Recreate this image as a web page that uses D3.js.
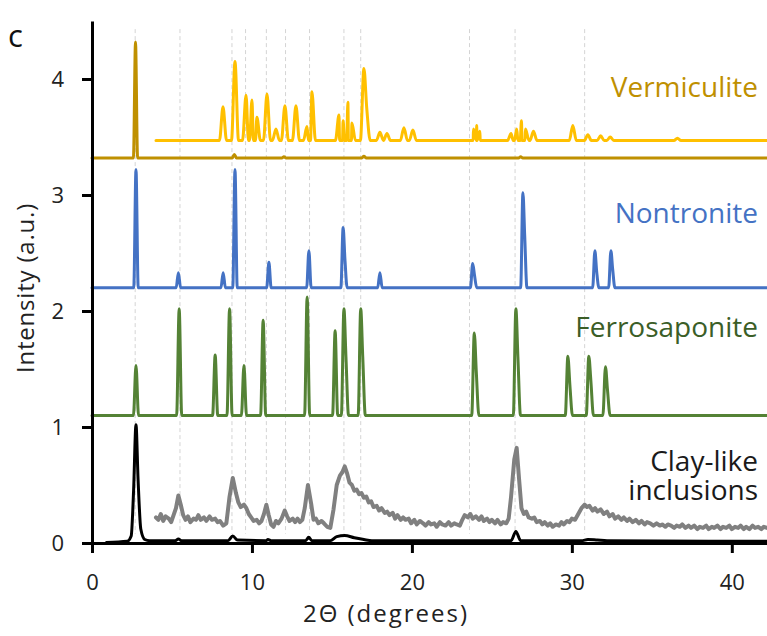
<!DOCTYPE html>
<html>
<head>
<meta charset="utf-8">
<script src="https://cdn.jsdelivr.net/npm/d3@7"></script>
<style>
  body { margin: 0; background: #fff; }
  svg { display: block; font-family: "Open Sans", sans-serif; }
</style>
</head>
<body>
<div id="chart"></div>
<script>
// axis ticks + dashed reference positions (2θ)
const xTicks = [0, 10, 20, 30, 40];
const yTicks = [0, 1, 2, 3, 4];
const refLines = [2.7, 5.5, 8.75, 9.6, 10.9, 12.1, 13.6, 15.75, 16.8, 23.6, 26.45, 30.8];

// peaks: [2θ, top, shoulder(optional)]
const vermBase = 3.32;
const vermPeaks = [[2.72, 4.32], [8.9, 3.35], [12.0, 3.33], [17.0, 3.335], [26.8, 3.33]];

const vermZoomBase = 3.47;
const vermZoomPeaks = [
  [8.19, 3.76], [8.94, 4.15], [9.63, 3.86], [10.0, 3.82], [10.31, 3.67], [10.94, 3.87],
  [11.5, 3.57], [12.06, 3.77], [12.75, 3.77], [13.44, 3.59], [13.75, 3.89],
  [15.44, 3.69], [15.7, 3.64], [16.0, 3.80], [16.25, 3.62], [17.0, 4.09, 3.75],
  [18.0, 3.54], [18.44, 3.53], [19.5, 3.58], [20.06, 3.56],
  [23.85, 3.57], [24.05, 3.60], [24.25, 3.55], [26.2, 3.53], [26.55, 3.57], [26.85, 3.64],
  [27.1, 3.57], [27.6, 3.55], [30.06, 3.60], [31.0, 3.52], [31.8, 3.51], [32.4, 3.50], [36.6, 3.49]
];

const nonBase = 2.2;
const nonPeaks = [
  [2.75, 3.22], [5.4, 2.33], [8.2, 2.33], [8.94, 3.22], [11.06, 2.42], [13.56, 2.52],
  [15.7, 2.72, 2.45], [18.0, 2.33], [23.8, 2.41, 2.31], [26.94, 3.02, 2.65],
  [31.44, 2.52, 2.34], [32.44, 2.52, 2.36]
];

const ferroBase = 1.1;
const ferroPeaks = [
  [2.75, 1.53], [5.45, 2.02], [7.7, 1.62], [8.6, 2.02], [9.5, 1.53], [10.7, 1.92],
  [13.45, 2.12], [15.2, 1.83], [15.75, 2.02, 1.6], [16.8, 2.02, 1.6], [23.9, 1.81, 1.47],
  [26.5, 2.02, 1.6], [29.75, 1.61, 1.36], [31.06, 1.61, 1.4], [32.1, 1.52, 1.32]
];

// clay-like inclusions, raw (black) and magnified (gray)
const clayRaw = [
  [0.9, 0.005], [2.2, 0.015], [2.45, 0.06], [2.6, 0.45], [2.75, 1.02], [2.88, 0.55], [3.05, 0.12],
  [3.3, 0.03], [3.6, 0.02], [5.2, 0.02], [5.4, 0.035], [5.6, 0.02], [8.5, 0.02], [8.8, 0.06],
  [9.1, 0.025], [10.9, 0.02], [11.0, 0.03], [11.2, 0.02], [13.35, 0.02], [13.55, 0.05],
  [13.75, 0.02], [14.9, 0.02], [15.3, 0.055], [15.8, 0.065], [16.4, 0.045], [17.0, 0.03],
  [17.5, 0.02], [26.2, 0.02], [26.5, 0.1], [26.8, 0.02], [30.6, 0.02], [31.0, 0.03],
  [31.6, 0.025], [32.2, 0.02], [42.2, 0.015]
];
const clayZoom = [
  [4.0, 0.22], [4.15, 0.2], [4.3, 0.25], [4.45, 0.19], [4.6, 0.23], [4.8, 0.21], [4.95, 0.18],
  [5.1, 0.24], [5.25, 0.3], [5.4, 0.41], [5.55, 0.33], [5.7, 0.24], [5.85, 0.2], [6.0, 0.23],
  [6.15, 0.18], [6.35, 0.21], [6.5, 0.2], [6.65, 0.24], [6.8, 0.2], [7.0, 0.22], [7.15, 0.19],
  [7.35, 0.23], [7.5, 0.2], [7.7, 0.21], [7.85, 0.18], [8.0, 0.19], [8.2, 0.15], [8.4, 0.17],
  [8.6, 0.4], [8.8, 0.56], [9.0, 0.43], [9.15, 0.35], [9.3, 0.31], [9.5, 0.33], [9.65, 0.3],
  [9.8, 0.25], [9.95, 0.22], [10.1, 0.19], [10.3, 0.2], [10.45, 0.17], [10.6, 0.19], [10.75, 0.25],
  [10.9, 0.33], [11.05, 0.24], [11.2, 0.16], [11.35, 0.14], [11.5, 0.19], [11.65, 0.17],
  [11.85, 0.21], [12.05, 0.28], [12.2, 0.23], [12.35, 0.19], [12.55, 0.21], [12.7, 0.18],
  [12.85, 0.21], [13.0, 0.18], [13.15, 0.2], [13.3, 0.3], [13.5, 0.5], [13.7, 0.34], [13.85, 0.2],
  [14.0, 0.21], [14.15, 0.17], [14.35, 0.19], [14.5, 0.17], [14.7, 0.14], [14.9, 0.13],
  [15.1, 0.29], [15.3, 0.5], [15.5, 0.58], [15.65, 0.61], [15.8, 0.66], [15.95, 0.6], [16.1, 0.52],
  [16.25, 0.5], [16.4, 0.45], [16.55, 0.46], [16.7, 0.42], [16.85, 0.43], [17.0, 0.39],
  [17.15, 0.4], [17.3, 0.35], [17.45, 0.36], [17.6, 0.31], [17.8, 0.32], [17.95, 0.28],
  [18.1, 0.3], [18.3, 0.26], [18.45, 0.27], [18.6, 0.24], [18.8, 0.26], [18.95, 0.21],
  [19.1, 0.24], [19.3, 0.2], [19.45, 0.22], [19.6, 0.2], [19.8, 0.21], [19.95, 0.17], [20.15, 0.2],
  [20.3, 0.16], [20.5, 0.19], [20.7, 0.17], [20.85, 0.15], [21.05, 0.18], [21.2, 0.16],
  [21.4, 0.17], [21.55, 0.14], [21.75, 0.18], [21.9, 0.16], [22.1, 0.15], [22.3, 0.18],
  [22.45, 0.15], [22.65, 0.17], [22.8, 0.16], [23.0, 0.15], [23.15, 0.2], [23.3, 0.24],
  [23.5, 0.22], [23.65, 0.25], [23.8, 0.21], [24.0, 0.23], [24.2, 0.2], [24.35, 0.23],
  [24.5, 0.19], [24.7, 0.21], [24.85, 0.18], [25.0, 0.2], [25.2, 0.17], [25.35, 0.2],
  [25.55, 0.16], [25.7, 0.18], [25.9, 0.17], [26.05, 0.21], [26.2, 0.4], [26.4, 0.72],
  [26.55, 0.82], [26.7, 0.55], [26.85, 0.3], [27.0, 0.25], [27.15, 0.27], [27.3, 0.22],
  [27.5, 0.21], [27.65, 0.22], [27.8, 0.18], [28.0, 0.19], [28.15, 0.16], [28.3, 0.18],
  [28.5, 0.15], [28.65, 0.17], [28.8, 0.14], [29.0, 0.16], [29.2, 0.15], [29.35, 0.18],
  [29.5, 0.16], [29.7, 0.19], [29.85, 0.18], [30.0, 0.21], [30.2, 0.2], [30.4, 0.25],
  [30.6, 0.3], [30.8, 0.33], [30.95, 0.31], [31.1, 0.32], [31.3, 0.28], [31.45, 0.3],
  [31.6, 0.27], [31.8, 0.29], [32.0, 0.25], [32.2, 0.27], [32.35, 0.23], [32.55, 0.25],
  [32.7, 0.21], [32.9, 0.23], [33.1, 0.2], [33.25, 0.22], [33.45, 0.19], [33.6, 0.21],
  [33.8, 0.18], [34.0, 0.2], [34.2, 0.17], [34.35, 0.19], [34.55, 0.16], [34.7, 0.18],
  [34.9, 0.17], [35.1, 0.15], [35.3, 0.17], [35.5, 0.15], [35.65, 0.16], [35.85, 0.14],
  [36.0, 0.16], [36.2, 0.15], [36.4, 0.13], [36.55, 0.15], [36.75, 0.14], [36.9, 0.16],
  [37.1, 0.13], [37.3, 0.15], [37.45, 0.13], [37.65, 0.15], [37.85, 0.12], [38.0, 0.14],
  [38.2, 0.13], [38.4, 0.15], [38.55, 0.12], [38.75, 0.14], [38.9, 0.13], [39.1, 0.15],
  [39.3, 0.12], [39.45, 0.14], [39.65, 0.13], [39.85, 0.15], [40.0, 0.12], [40.2, 0.14],
  [40.4, 0.13], [40.55, 0.15], [40.75, 0.12], [40.9, 0.14], [41.1, 0.12], [41.3, 0.15],
  [41.45, 0.13], [41.65, 0.14], [41.85, 0.12], [42.0, 0.14], [42.2, 0.13]
];

// label text + the intensity where each label sits
const labels = [
  { lines: ["Vermiculite"], at: 3.845, color: "#bf9000" },
  { lines: ["Nontronite"], at: 2.76, color: "#4472c4" },
  { lines: ["Ferrosaponite"], at: 1.776, color: "#3b5e27" },
  { lines: ["Clay-like", "inclusions"], at: 0.62, color: "#1a1a1a" }
];

// turn a peak list into line vertices on a flat baseline
function peakLine(base, peaks, x0, x1, hw) {
  const pts = [[x0, base], [x1, base]];
  peaks.forEach(p => {
    pts.push([p[0] - hw, base]);
    pts.push([p[0], p[1]]);
    if (p.length > 2) {
      pts.push([p[0] + hw * 0.8, p[2]]);
      pts.push([p[0] + hw * 1.8, base]);
    } else {
      pts.push([p[0] + hw, base]);
    }
  });
  return pts.sort((a, b) => a[0] - b[0]);
}

function drawXrd(targetElementId) {
  const margin = { top: 21, right: 0, bottom: 93, left: 92 };
  const width = 767 - margin.left - margin.right;
  const height = 636 - margin.top - margin.bottom;

  const root = d3.select(`#${targetElementId}`).append("svg")
      .attr("width", 767)
      .attr("height", 636);
  const svg = root.append("g")
      .attr("transform", `translate(${margin.left},${margin.top})`);

  const x = d3.scaleLinear().domain([0, 42.2]).range([0, width]);
  const y = d3.scaleLinear().domain([0, 4.5]).range([height, 0]);

  // dashed guides
  svg.selectAll(".guide")
    .data(refLines)
    .enter()
    .append("line")
      .attr("x1", d => x(d)).attr("x2", d => x(d))
      .attr("y1", y(4.43)).attr("y2", y(0.08))
      .attr("stroke", "#d4d4d4")
      .attr("stroke-width", 1)
      .attr("stroke-dasharray", "4,3");

  const smooth = d3.line().x(d => x(d[0])).y(d => y(d[1])).curve(d3.curveMonotoneX);
  const rough = d3.line().x(d => x(d[0])).y(d => y(d[1]));

  const series = [
    { pts: clayZoom, gen: rough, color: "#808080", w: 4 },
    { pts: clayRaw, gen: smooth, color: "#000000", w: 3 },
    { pts: peakLine(ferroBase, ferroPeaks, 0, 42.2, 0.16), gen: smooth, color: "#548235", w: 3 },
    { pts: peakLine(nonBase, nonPeaks, 0, 42.2, 0.14), gen: smooth, color: "#4472c4", w: 3 },
    { pts: peakLine(vermZoomBase, vermZoomPeaks, 4.0, 42.2, 0.22), gen: smooth, color: "#ffc000", w: 3 },
    { pts: peakLine(vermBase, vermPeaks, 0, 42.2, 0.13), gen: smooth, color: "#bf9000", w: 3 }
  ];

  series.forEach(s => {
    svg.append("path")
      .attr("d", s.gen(s.pts))
      .attr("fill", "none")
      .attr("stroke", s.color)
      .attr("stroke-width", s.w)
      .attr("stroke-linejoin", "round")
      .attr("stroke-linecap", "round");
  });

  // axes
  const xAxis = svg.append("g")
    .attr("transform", `translate(0,${height})`)
    .call(d3.axisBottom(x).tickValues(xTicks).tickSize(10).tickSizeOuter(0).tickPadding(21)
      .tickFormat(d3.format("d")));
  const yAxis = svg.append("g")
    .call(d3.axisLeft(y).tickValues(yTicks).tickSize(10).tickSizeOuter(0).tickPadding(18)
      .tickFormat(d3.format("d")));

  [xAxis, yAxis].forEach(g => {
    g.select(".domain").attr("stroke", "#000").attr("stroke-width", 3);
    g.selectAll(".tick line").attr("stroke", "#000").attr("stroke-width", 3);
    g.selectAll(".tick text")
      .attr("fill", "#222")
      .style("font-size", "22px")
      .style("font-family", "'Open Sans', sans-serif");
  });

  // axis titles
  root.append("text")
    .attr("x", 386).attr("y", 622)
    .attr("text-anchor", "middle")
    .attr("fill", "#222")
    .style("font-size", "24px")
    .style("letter-spacing", "2px")
    .text("2Θ (degrees)");

  root.append("text")
    .attr("transform", "translate(34,288) rotate(-90)")
    .attr("text-anchor", "middle")
    .attr("fill", "#222")
    .style("font-size", "24px")
    .style("letter-spacing", "0.8px")
    .text("Intensity (a.u.)");

  root.append("text")
    .attr("x", 8).attr("y", 47)
    .attr("fill", "#111")
    .style("font-size", "31px")
    .text("c");

  const lab = svg.selectAll(".lab")
    .data(labels)
    .enter()
    .append("text")
      .attr("y", d => y(d.at))
      .attr("text-anchor", "end")
      .attr("fill", d => d.color)
      .style("font-size", "28px");
  lab.selectAll("tspan")
    .data(d => d.lines)
    .enter()
    .append("tspan")
      .attr("x", 758 - margin.left)
      .attr("dy", (d, i) => i === 0 ? 0 : 29)
      .text(d => d);
}

drawXrd("chart");
</script>
</body>
</html>
